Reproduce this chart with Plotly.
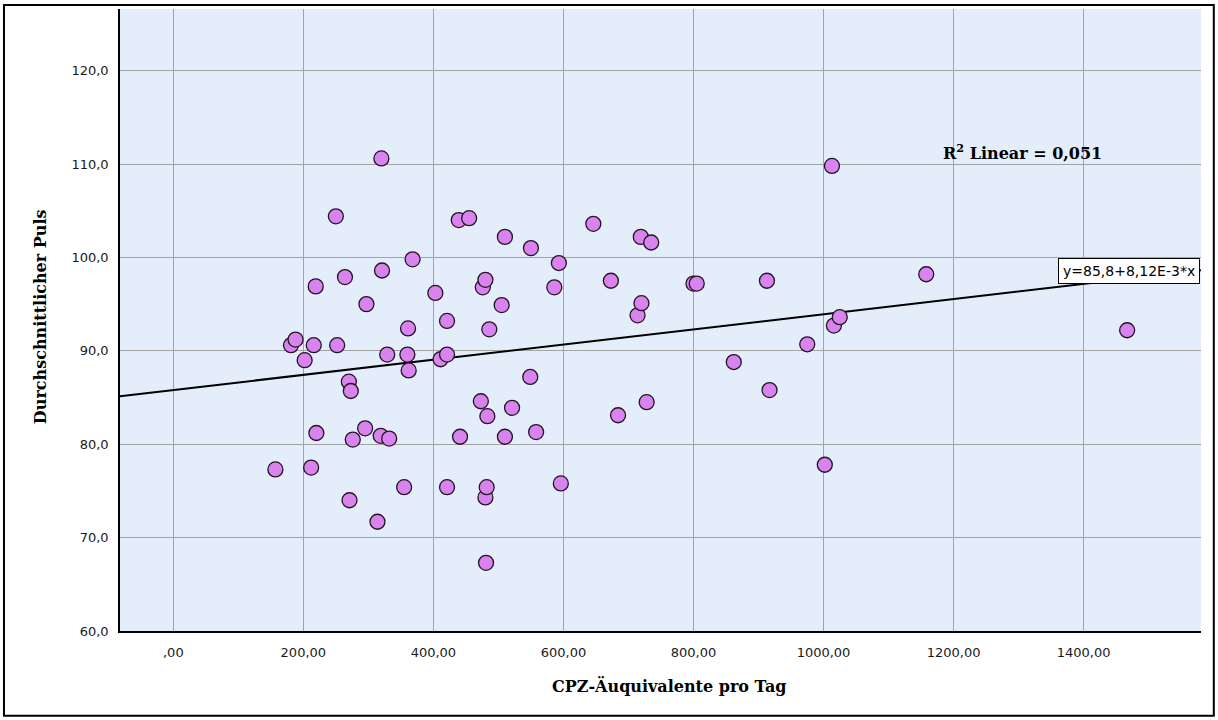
import numpy as np
import plotly.graph_objects as go

# CPZ equivalents per day (x) and mean pulse (y) for each patient
cpz = [157, 181, 188, 202, 212, 216, 219, 220, 250, 252,
       264, 270, 271, 273, 276, 295, 297, 314, 319, 320,
       321, 329, 332, 355, 360, 361, 362, 368, 403, 411,
       421, 421, 421, 439, 441, 455, 473, 476, 480, 480,
       482, 481, 483, 486, 505, 510, 510, 521, 549, 550,
       558, 586, 593, 596, 646, 673, 684, 714, 719, 720,
       728, 735, 800, 805, 862, 913, 917, 975, 1002, 1013,
       1016, 1025, 1158, 1467]
puls = [77.3, 90.6, 91.2, 89.0, 77.5, 90.6, 96.9, 81.2, 104.4, 90.6,
        97.9, 86.7, 74.0, 85.7, 80.5, 81.7, 95.0, 71.7, 80.9, 110.6,
        98.6, 89.6, 80.6, 75.4, 89.6, 92.4, 87.9, 99.8, 96.2, 89.1,
        89.6, 93.2, 75.4, 104.0, 80.8, 104.2, 84.6, 96.8, 97.6, 74.3,
        75.4, 67.3, 83.0, 92.3, 94.9, 102.2, 80.8, 83.9, 87.2, 101.0,
        81.3, 96.8, 99.4, 75.8, 103.6, 97.5, 83.1, 93.8, 102.2, 95.1,
        84.5, 101.6, 97.2, 97.2, 88.8, 97.5, 85.8, 90.7, 77.8, 109.8,
        92.7, 93.6, 98.2, 92.2]

# Linear fit as reported: y = 85,8 + 8,12E-3 * x, R^2 = 0,051
intercept = 85.8
slope = 8.12e-3
r_squared = "0,051"

x_tickvals = [0, 200, 400, 600, 800, 1000, 1200, 1400]
x_ticktext = [",00", "200,00", "400,00", "600,00", "800,00", "1000,00", "1200,00", "1400,00"]
y_tickvals = [60, 70, 80, 90, 100, 110, 120]
y_ticktext = ["60,0", "70,0", "80,0", "90,0", "100,0", "110,0", "120,0"]

x_range = [-82, 1580.6]
y_range = [60, 126.6]

fit_x = np.array(x_range, dtype=float)
fit_y = intercept + slope * fit_x

serif = "DejaVu Serif"
sans = "DejaVu Sans"

fig = go.Figure()

fig.add_trace(go.Scatter(
    x=fit_x, y=fit_y, mode="lines",
    line=dict(color="black", width=2),
    hoverinfo="skip", showlegend=False,
))

fig.add_trace(go.Scatter(
    x=cpz, y=puls, mode="markers",
    marker=dict(size=15, color="#D883EE", line=dict(color="#231423", width=1.3)),
    showlegend=False,
))

fig.update_xaxes(
    range=x_range, tickvals=x_tickvals, ticktext=x_ticktext,
    showgrid=True, gridcolor="#A3A3A3", gridwidth=1.3,
    zeroline=False, showline=True, linecolor="black", linewidth=1.5,
    ticks="", ticklabelstandoff=9,
    tickfont=dict(family=sans, size=13, color="#1a1a1a"),
)
fig.update_yaxes(
    range=y_range, tickvals=y_tickvals, ticktext=y_ticktext,
    showgrid=True, gridcolor="#A3A3A3", gridwidth=1.3,
    zeroline=False, showline=True, linecolor="black", linewidth=1.5,
    ticks="", ticklabelstandoff=7,
    tickfont=dict(family=sans, size=13, color="#1a1a1a"),
)

# pixel helpers for the 1218x720 canvas
L, R, T, B = 120, 1200.7, 9, 630.7


def px(xp):
    return (xp - L) / (R - L)


def py(yp):
    return (B - yp) / (B - T)


annotations = [
    dict(text="CPZ-Äuquivalente pro Tag", x=px(669), y=py(686),
         xref="paper", yref="paper", showarrow=False,
         xanchor="center", yanchor="middle",
         font=dict(family=serif, size=16, color="black", weight="bold")),
    dict(text="Durchschnittlicher Puls", x=px(40), y=py(316),
         xref="paper", yref="paper", showarrow=False, textangle=-90,
         xanchor="center", yanchor="middle",
         font=dict(family=serif, size=16, color="black", weight="bold")),
    dict(text="R<sup>2</sup> Linear = " + r_squared, x=px(1022.5), y=py(152),
         xref="paper", yref="paper", showarrow=False,
         xanchor="center", yanchor="middle",
         font=dict(family=serif, size=16, color="black", weight="bold")),
    dict(text="y=85,8+8,12E-3*x", x=px(1057.7), y=py(270.5),
         xref="paper", yref="paper", showarrow=False,
         xanchor="left", yanchor="middle",
         bgcolor="white", bordercolor="black", borderwidth=1, borderpad=4,
         font=dict(family=sans, size=14, color="black")),
]

shapes = [
    dict(type="rect", xref="paper", yref="paper",
         x0=px(4), x1=px(1213.5), y0=py(715.5), y1=py(5),
         line=dict(color="black", width=2), fillcolor="rgba(0,0,0,0)",
         layer="above"),
]

fig.update_layout(
    width=1218, height=720, autosize=False,
    margin=dict(l=L, r=1218 - R, t=T, b=720 - B),
    paper_bgcolor="white", plot_bgcolor="#E3EEFA",
    annotations=annotations, shapes=shapes,
    showlegend=False,
)

fig.write_html("out.html")
